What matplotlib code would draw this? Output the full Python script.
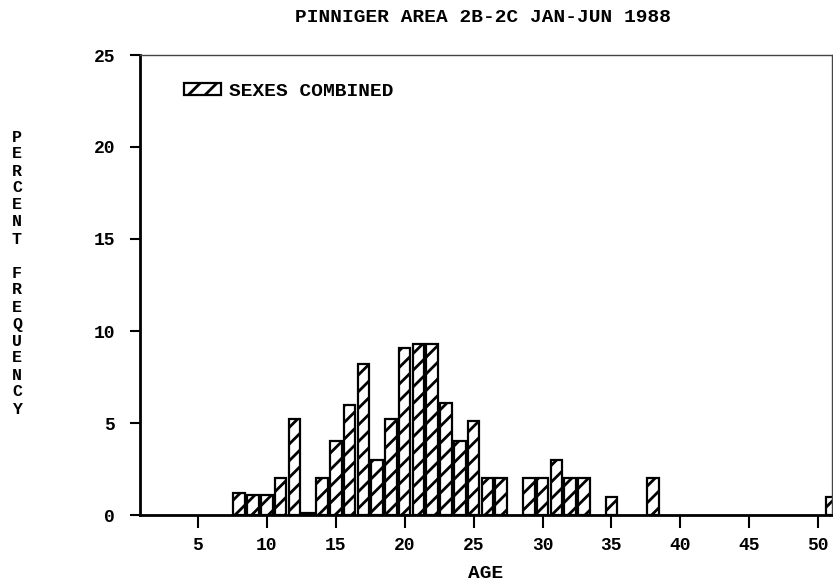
import matplotlib.pyplot as plt
from matplotlib.patches import Patch

plt.rcParams['font.family'] = ['Liberation Mono', 'DejaVu Sans Mono']
plt.rcParams['font.weight'] = 'bold'
plt.rcParams['axes.labelweight'] = 'bold'
plt.rcParams['hatch.linewidth'] = 2.0

# age composition, percent frequency
ages = [8, 9, 10, 11, 12, 13, 14, 15, 16, 17, 18, 19, 20, 21, 22, 23, 24, 25,
        26, 27, 29, 30, 31, 32, 33, 35, 38, 51]
percent = [1.2, 1.1, 1.1, 2.0, 5.2, 0.1, 2.0, 4.0, 6.0, 8.2, 3.0, 5.2, 9.1,
           9.3, 9.3, 6.1, 4.0, 5.1, 2.0, 2.0, 2.0, 2.0, 3.0, 2.0, 2.0, 1.0,
           2.0, 1.0]

x_ticks = [5, 10, 15, 20, 25, 30, 35, 40, 45, 50]
y_ticks = [0, 5, 10, 15, 20, 25]

title = 'PINNIGER AREA 2B-2C JAN-JUN 1988'
ylabel = 'PERCENT FREQUENCY'


def gen_plot():
    fig = plt.figure(figsize=(8.33, 5.87), dpi=100)
    ax = fig.add_axes([140 / 833, 72 / 587, 692 / 833, 460 / 587])

    ax.bar(ages, percent, width=0.84, color='white', edgecolor='black',
           linewidth=1.6, hatch='//')

    ax.set_xlim(0.8, 51.0)
    ax.set_ylim(0, 25)
    ax.set_xticks(x_ticks)
    ax.set_yticks(y_ticks)
    ax.tick_params(axis='x', direction='out', length=9, width=1.5, pad=7,
                   labelsize=13)
    ax.tick_params(axis='y', direction='out', length=7, width=1.5, pad=11,
                   labelsize=13)

    for side in ('left', 'bottom'):
        ax.spines[side].set_linewidth(2)
    for side in ('top', 'right'):
        ax.spines[side].set_linewidth(1)
        ax.spines[side].set_color('#444444')
        ax.spines[side].set_linestyle((0, (6, 1)))

    ax.set_xlabel('AGE', fontsize=14, labelpad=8)

    fig.text(483 / 833, 1 - 18 / 587, title, ha='center', va='center',
             fontsize=14)

    # stacked vertical label, one letter per line
    step = 17 / 587
    y0 = 1 - 137 / 587
    for i, ch in enumerate(ylabel):
        if ch != ' ':
            fig.text(17 / 833, y0 - i * step, ch, ha='center', va='center',
                     fontsize=12)

    handle = Patch(facecolor='white', edgecolor='black', hatch='//',
                   linewidth=1.6)
    ax.legend([handle], ['SEXES COMBINED'], loc='upper left',
              bbox_to_anchor=(0.038, 0.978), frameon=False, fontsize=14,
              handlelength=1.9, handleheight=0.6, handletextpad=0.4)

    fig.savefig('out.png', dpi=100)


gen_plot()
